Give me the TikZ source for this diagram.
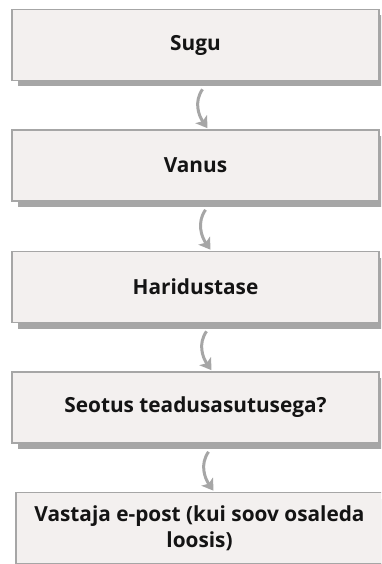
\documentclass[tikz,border=0pt]{standalone}
\usepackage{fontspec}
\setmainfont{Open Sans}
\usepackage{xcolor}
\usepackage{tikz}
\usetikzlibrary{arrows.meta, shadows, positioning}
\definecolor{boxfill}{HTML}{F3F0EF}
\definecolor{boxline}{HTML}{A6A6A6}
\definecolor{shadowgray}{HTML}{A6A6A6}
\definecolor{arrowgray}{HTML}{A6A6A6}
\definecolor{textdark}{HTML}{141414}

\begin{document}
\begin{tikzpicture}[x=1pt, y=-1pt,
  box/.style={rectangle, draw=boxline, line width=1.6pt, fill=boxfill,
              minimum width=367pt, minimum height=71pt, text=textdark,
              font=\bfseries\fontsize{20.8}{25.5}\selectfont, align=center,
              general shadow={fill=shadowgray, shadow xshift=6pt, shadow yshift=-6pt}},
  arr/.style={-{Stealth[length=11pt, width=14pt, inset=2.5pt]}, line width=3pt,
              draw=arrowgray},
]
\clip (0,0) rectangle (381,564);

% boxes
\node[box] (sugu)      at (195.5, 45)  {Sugu};
\node[box] (vanus)     at (195.5,165.5) {Vanus};
\node[box] (haridus)   at (195.5,287)  {Haridustase};
\node[box] (seotus)    at (195.5,407.5) {Seotus teadusasutusega?};
\node[box] (epost)     at (199.5,528)  {Vastaja e-post (kui soov osaleda\\loosis)};

% curved arrows
\draw[arr] ([xshift=7pt, yshift=-8pt]sugu.south)
  to[out=235, in=125] ([xshift=12pt, yshift=1pt]vanus.north);
\draw[arr] ([xshift=10pt, yshift=-8pt]vanus.south)
  to[out=235, in=125] ([xshift=15pt, yshift=1pt]haridus.north);
\draw[arr] ([xshift=11pt, yshift=-8pt]haridus.south)
  to[out=235, in=125] ([xshift=16pt, yshift=1pt]seotus.north);
\draw[arr] ([xshift=13pt, yshift=-8pt]seotus.south)
  to[out=235, in=125] ([xshift=14pt, yshift=1pt]epost.north);
\end{tikzpicture}
\end{document}
